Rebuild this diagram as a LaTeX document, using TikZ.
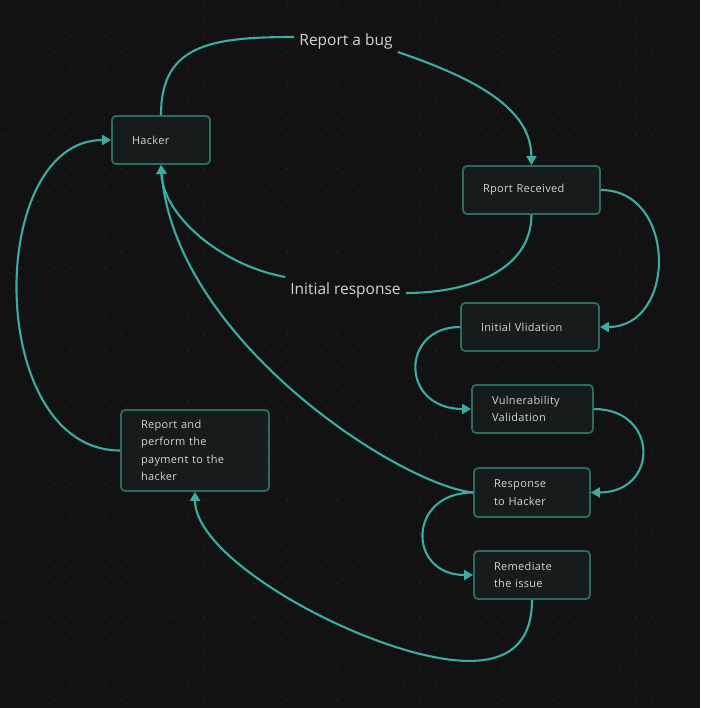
\documentclass[tikz,border=0pt]{standalone}
\usepackage{fontspec}
\setmainfont{Open Sans}
\newfontfamily\boxfont[LetterSpace=3]{Open Sans}
\usetikzlibrary{arrows.meta}
\definecolor{bg}{HTML}{131212}
\definecolor{dotc}{HTML}{2A2A2A}
\definecolor{boxfill}{HTML}{161B1B}
\definecolor{boxline}{HTML}{2C6B63}
\definecolor{edgec}{HTML}{3AADA2}
\definecolor{txt}{HTML}{D4D4D4}
\begin{document}
\begin{tikzpicture}[x=1pt,y=-1pt,
 stepbox/.style={draw=boxline, line width=1.8pt, fill=boxfill, rounded corners=4pt, inner xsep=20pt, inner ysep=0pt, align=left, text=txt, minimum height=48pt, font=\boxfont\fontsize{11}{17.5}\selectfont},
 lbl/.style={fill=bg, text=txt, inner sep=5pt, font=\fontsize{15.5}{18}\selectfont},
 conn/.style={draw=edgec, line width=2.1pt},
 arr/.style={conn, -{Triangle[length=9pt,width=10pt]}}]
\fill[bg] (0,0) rectangle (700,708);
\useasboundingbox (0,0) rectangle (700,708);
\foreach \i in {0,...,42} \foreach \j in {0,...,42} \fill[dotc] (5+16.6*\i, 2.5+16.6*\j) circle (0.8);

\node[stepbox, text width=58pt] (hacker) at (161,140) {Hacker};
\node[stepbox, text width=97pt] (rr) at (531.5,190) {Rport Received};
\node[stepbox, text width=98pt] (iv) at (530,327) {Initial Vlidation};
\node[stepbox, text width=81pt] (vv) at (532.5,409) {Vulnerability\\Validation};
\node[stepbox, text width=76pt, minimum height=49pt] (resp) at (532,492.5) {Response\\to Hacker};
\node[stepbox, text width=76pt] (rem) at (532,575) {Remediate\\the issue};
\node[stepbox, text width=108pt, minimum height=81pt] (rep) at (195,450.5) {Report and\\perform the\\payment to the\\hacker};

\node[lbl] (lbug) at (346,41) {Report a bug};
\node[lbl] (lresp) at (345.5,290) {Initial response};

% Report a bug
\draw[conn] (hacker.north) .. controls (161,45) and (210,37) .. ([yshift=4pt]lbug.west);
\draw[arr] ([yshift=-11pt]lbug.east) .. controls (480,80) and (531,110) .. (rr.north);
% Initial response
\draw[conn] (rr.south) .. controls (531,270) and (470,293) .. ([yshift=-3pt]lresp.east);
\draw[arr] ([yshift=13pt]lresp.west) .. controls (220,265) and (163,215) .. (hacker.south);
% Response to hacker -> Hacker
\draw[arr] (resp.west) .. controls (400,485) and (175,340) .. (hacker.south);
% chain
\draw[arr] (rr.east) .. controls (677,190) and (677,327) .. (iv.east);
\draw[arr] (iv.west) .. controls (400,327) and (400,409) .. (vv.west);
\draw[arr] (vv.east) .. controls (659,409) and (659,492.5) .. (resp.east);
\draw[arr] (resp.west) .. controls (407,492.5) and (407,575) .. (rem.west);
\draw[arr] (rem.south) .. controls (532,650) and (500,665) .. (453,660) .. controls (360,650) and (195,560) .. (rep.south);
\draw[arr] (rep.west) .. controls (-15,450.5) and (-15,140) .. (hacker.west);
\end{tikzpicture}
\end{document}
